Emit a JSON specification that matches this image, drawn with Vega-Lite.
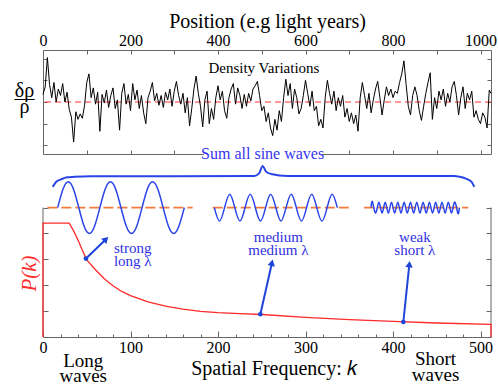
{
"$schema": "https://vega.github.io/schema/vega-lite/v6.json",
"padding": {"left": 13, "top": 10, "right": 0, "bottom": 0},
"config": {"font": "Liberation Serif", "view": {"stroke": null}, "text": {"font": "Liberation Serif"}, "axis": {"grid": false, "labelFont": "Liberation Serif", "titleFont": "Liberation Serif", "tickColor": "#666", "domainColor": "#666", "labelColor": "black", "titleColor": "black", "titleFontWeight": "normal"}},
"spacing": 7,
"bounds": "flush",
"datasets": {
"density": [
{"pos":0,"v":0.35},{"pos":5,"v":0.7},{"pos":10,"v":2.05},{"pos":15,"v":0.8},{"pos":20,"v":0.2},{"pos":25,"v":0.9},{"pos":30,"v":0.0},{"pos":35,"v":0.6},{"pos":40,"v":0.3},{"pos":45,"v":0.85},{"pos":50,"v":0.0},{"pos":55,"v":0.45},{"pos":60,"v":-0.35},{"pos":65,"v":-0.7},{"pos":70,"v":-1.85},{"pos":75,"v":-0.45},{"pos":80,"v":-0.8},{"pos":85,"v":-0.55},{"pos":90,"v":-0.75},{"pos":95,"v":-0.15},{"pos":100,"v":0.9},{"pos":105,"v":1.3},{"pos":110,"v":0.2},{"pos":115,"v":0.65},{"pos":120,"v":-0.1},{"pos":125,"v":0.45},{"pos":130,"v":-1.35},{"pos":135,"v":0.35},{"pos":140,"v":-0.05},{"pos":145,"v":0.55},{"pos":150,"v":-0.25},{"pos":155,"v":0.3},{"pos":160,"v":0.65},{"pos":165,"v":-0.3},{"pos":170,"v":0.1},{"pos":175,"v":-1.3},{"pos":180,"v":0.4},{"pos":185,"v":0.85},{"pos":190,"v":-0.1},{"pos":195,"v":0.35},{"pos":200,"v":-0.4},{"pos":205,"v":0.85},{"pos":210,"v":0.1},{"pos":215,"v":0.55},{"pos":220,"v":-0.3},{"pos":225,"v":0.3},{"pos":230,"v":-0.5},{"pos":235,"v":-1.0},{"pos":240,"v":0.2},{"pos":245,"v":0.5},{"pos":250,"v":0.9},{"pos":255,"v":0.05},{"pos":260,"v":0.4},{"pos":265,"v":-0.15},{"pos":270,"v":0.3},{"pos":275,"v":-0.25},{"pos":280,"v":0.45},{"pos":285,"v":0.1},{"pos":290,"v":0.6},{"pos":295,"v":-0.2},{"pos":300,"v":0.5},{"pos":305,"v":0.95},{"pos":310,"v":0.3},{"pos":315,"v":-0.1},{"pos":320,"v":0.4},{"pos":325,"v":-0.5},{"pos":330,"v":0.2},{"pos":335,"v":-1.1},{"pos":340,"v":-0.3},{"pos":345,"v":0.6},{"pos":350,"v":1.2},{"pos":355,"v":0.4},{"pos":360,"v":-0.2},{"pos":365,"v":-1.15},{"pos":370,"v":0.1},{"pos":375,"v":0.5},{"pos":380,"v":-1.0},{"pos":385,"v":-0.3},{"pos":390,"v":-0.8},{"pos":395,"v":0.2},{"pos":400,"v":0.75},{"pos":405,"v":0.1},{"pos":410,"v":0.5},{"pos":415,"v":-0.4},{"pos":420,"v":-0.75},{"pos":425,"v":0.2},{"pos":430,"v":0.6},{"pos":435,"v":0.85},{"pos":440,"v":-0.1},{"pos":445,"v":0.65},{"pos":450,"v":0.3},{"pos":455,"v":-0.3},{"pos":460,"v":0.35},{"pos":465,"v":-0.2},{"pos":470,"v":0.4},{"pos":475,"v":0.05},{"pos":480,"v":0.6},{"pos":485,"v":0.75},{"pos":490,"v":0.95},{"pos":495,"v":0.3},{"pos":500,"v":-0.4},{"pos":505,"v":-0.2},{"pos":510,"v":-0.9},{"pos":515,"v":-0.5},{"pos":520,"v":-1.2},{"pos":525,"v":-1.55},{"pos":530,"v":-0.8},{"pos":535,"v":-1.3},{"pos":540,"v":-0.4},{"pos":545,"v":-0.9},{"pos":550,"v":0.2},{"pos":555,"v":1.05},{"pos":560,"v":0.3},{"pos":565,"v":0.85},{"pos":570,"v":-0.3},{"pos":575,"v":0.6},{"pos":580,"v":0.2},{"pos":585,"v":-0.55},{"pos":590,"v":-0.3},{"pos":595,"v":0.3},{"pos":600,"v":1.0},{"pos":605,"v":0.4},{"pos":610,"v":-0.2},{"pos":615,"v":0.5},{"pos":620,"v":-0.4},{"pos":625,"v":-0.2},{"pos":630,"v":-1.1},{"pos":635,"v":-0.8},{"pos":640,"v":-1.2},{"pos":645,"v":0.2},{"pos":650,"v":1.0},{"pos":655,"v":0.4},{"pos":660,"v":-0.1},{"pos":665,"v":0.5},{"pos":670,"v":-0.4},{"pos":675,"v":0.2},{"pos":680,"v":-0.2},{"pos":685,"v":0.3},{"pos":690,"v":-0.7},{"pos":695,"v":-0.3},{"pos":700,"v":-0.9},{"pos":705,"v":-0.5},{"pos":710,"v":-1.0},{"pos":715,"v":-0.6},{"pos":720,"v":-1.35},{"pos":725,"v":0.2},{"pos":730,"v":0.9},{"pos":735,"v":0.3},{"pos":740,"v":-0.3},{"pos":745,"v":0.4},{"pos":750,"v":-0.5},{"pos":755,"v":0.1},{"pos":760,"v":0.6},{"pos":765,"v":0.95},{"pos":770,"v":0.2},{"pos":775,"v":-0.6},{"pos":780,"v":0.1},{"pos":785,"v":0.7},{"pos":790,"v":0.3},{"pos":795,"v":0.6},{"pos":800,"v":0.2},{"pos":805,"v":0.5},{"pos":810,"v":0.4},{"pos":815,"v":0.9},{"pos":820,"v":1.3},{"pos":825,"v":1.9},{"pos":830,"v":0.8},{"pos":835,"v":-0.2},{"pos":840,"v":-0.6},{"pos":845,"v":0.3},{"pos":850,"v":0.7},{"pos":855,"v":0.3},{"pos":860,"v":-0.4},{"pos":865,"v":-0.85},{"pos":870,"v":-0.2},{"pos":875,"v":0.4},{"pos":880,"v":0.9},{"pos":885,"v":1.35},{"pos":890,"v":-0.8},{"pos":895,"v":0.2},{"pos":900,"v":-0.3},{"pos":905,"v":0.5},{"pos":910,"v":0.1},{"pos":915,"v":0.6},{"pos":920,"v":-0.2},{"pos":925,"v":0.4},{"pos":930,"v":0.0},{"pos":935,"v":0.7},{"pos":940,"v":0.95},{"pos":945,"v":0.3},{"pos":950,"v":-0.6},{"pos":955,"v":0.2},{"pos":960,"v":0.7},{"pos":965,"v":-0.3},{"pos":970,"v":0.4},{"pos":975,"v":0.1},{"pos":980,"v":0.5},{"pos":985,"v":-0.7},{"pos":990,"v":-0.4},{"pos":995,"v":-0.8},{"pos":1000,"v":-1.0},{"pos":1005,"v":-0.5},{"pos":1010,"v":-0.7},{"pos":1015,"v":-1.2},{"pos":1020,"v":0.55},{"pos":1024,"v":0.4}
],
"pk": [
{"k":0,"P":0},{"k":0,"P":4.4},{"k":30,"P":4.4},{"k":35,"P":4.1},{"k":40,"P":3.75},{"k":45,"P":3.35},{"k":50,"P":2.98},{"k":60,"P":2.6},{"k":70,"P":2.25},{"k":80,"P":1.98},{"k":90,"P":1.76},{"k":100,"P":1.6},{"k":120,"P":1.36},{"k":140,"P":1.19},{"k":160,"P":1.08},{"k":180,"P":0.99},{"k":200,"P":0.94},{"k":225,"P":0.9},{"k":250,"P":0.87},{"k":300,"P":0.76},{"k":350,"P":0.67},{"k":400,"P":0.6},{"k":450,"P":0.54},{"k":512,"P":0.49},{"k":512,"P":0}
],
"dash": [
{"seg":1,"k":5,"P":5},{"seg":1,"k":171,"P":5},{"seg":2,"k":194,"P":5},{"seg":2,"k":352,"P":5},{"seg":3,"k":367,"P":5},{"seg":3,"k":486,"P":5}
],
"waves": [
{"wave":"L","k":16.8,"P":5},{"wave":"L","k":22.8,"P":5.71},{"wave":"L","k":28.9,"P":6},{"wave":"L","k":34.9,"P":5.71},{"wave":"L","k":40.9,"P":5},{"wave":"L","k":46.9,"P":4.29},{"wave":"L","k":53.0,"P":4},{"wave":"L","k":59.0,"P":4.29},{"wave":"L","k":65.0,"P":5},{"wave":"L","k":71.0,"P":5.71},{"wave":"L","k":77.1,"P":6},{"wave":"L","k":83.1,"P":5.71},{"wave":"L","k":89.1,"P":5},{"wave":"L","k":95.1,"P":4.29},{"wave":"L","k":101.2,"P":4},{"wave":"L","k":107.2,"P":4.29},{"wave":"L","k":113.2,"P":5},{"wave":"L","k":119.2,"P":5.71},{"wave":"L","k":125.2,"P":6},{"wave":"L","k":131.3,"P":5.71},{"wave":"L","k":137.3,"P":5},{"wave":"L","k":143.3,"P":4.29},{"wave":"L","k":149.4,"P":4},{"wave":"L","k":155.4,"P":4.29},{"wave":"L","k":161.5,"P":5},
{"wave":"M","k":195.8,"P":5},{"wave":"M","k":201.7,"P":4.48},{"wave":"M","k":207.5,"P":5},{"wave":"M","k":213.4,"P":5.52},{"wave":"M","k":219.2,"P":5},{"wave":"M","k":225.1,"P":4.48},{"wave":"M","k":230.9,"P":5},{"wave":"M","k":236.8,"P":5.52},{"wave":"M","k":242.7,"P":5},{"wave":"M","k":248.5,"P":4.48},{"wave":"M","k":254.4,"P":5},{"wave":"M","k":260.2,"P":5.52},{"wave":"M","k":266.1,"P":5},{"wave":"M","k":271.9,"P":4.48},{"wave":"M","k":277.8,"P":5},{"wave":"M","k":283.7,"P":5.52},{"wave":"M","k":289.5,"P":5},{"wave":"M","k":295.4,"P":4.48},{"wave":"M","k":301.2,"P":5},{"wave":"M","k":307.1,"P":5.52},{"wave":"M","k":312.9,"P":5},{"wave":"M","k":318.8,"P":4.48},{"wave":"M","k":324.7,"P":5},{"wave":"M","k":330.5,"P":5.52},{"wave":"M","k":336.4,"P":5},
{"wave":"S","k":374.9,"P":5},{"wave":"S","k":376.7,"P":5.21},{"wave":"S","k":380.3,"P":4.79},{"wave":"S","k":383.9,"P":5.21},{"wave":"S","k":387.5,"P":4.79},{"wave":"S","k":391.1,"P":5.21},{"wave":"S","k":394.7,"P":4.79},{"wave":"S","k":398.3,"P":5.21},{"wave":"S","k":401.9,"P":4.79},{"wave":"S","k":405.5,"P":5.21},{"wave":"S","k":409.1,"P":4.79},{"wave":"S","k":412.7,"P":5.21},{"wave":"S","k":416.3,"P":4.79},{"wave":"S","k":420.0,"P":5.21},{"wave":"S","k":423.6,"P":4.79},{"wave":"S","k":427.2,"P":5.21},{"wave":"S","k":430.8,"P":4.79},{"wave":"S","k":434.4,"P":5.21},{"wave":"S","k":438.0,"P":4.79},{"wave":"S","k":441.6,"P":5.21},{"wave":"S","k":445.2,"P":4.79},{"wave":"S","k":448.8,"P":5.21},{"wave":"S","k":452.4,"P":4.79},{"wave":"S","k":456.0,"P":5.21},{"wave":"S","k":459.6,"P":4.79},{"wave":"S","k":463.2,"P":5.21},{"wave":"S","k":466.8,"P":4.79},{"wave":"S","k":470.4,"P":5.21},{"wave":"S","k":474.0,"P":4.79},{"wave":"S","k":475.8,"P":5}
],
"brace": [
{"k":11.1,"P":5.8},{"k":14.9,"P":5.99},{"k":20.6,"P":6.09},{"k":27.4,"P":6.17},{"k":35.8,"P":6.19},{"k":54.9,"P":6.21},{"k":241.5,"P":6.22},{"k":246.9,"P":6.32},{"k":251.1,"P":6.61},{"k":254.9,"P":6.39},{"k":260.6,"P":6.3},{"k":279.7,"P":6.22},{"k":470,"P":6.22},{"k":480,"P":6.16},{"k":485.4,"P":6.09},{"k":490.3,"P":5.97},{"k":492.9,"P":5.8}
],
"arrows": [
{"k":49.1,"P":3.03,"k2":72,"P2":3.78},{"k":248.4,"P":0.88,"k2":261.7,"P2":2.87},{"k":411.8,"P":0.58,"k2":418.7,"P2":2.81}
]
},
"vconcat": [
{
"width": 448, "height": 104,
"view": {"stroke": "#666"},
"resolve": {"axis": {"x": "independent", "y": "independent"}},
"layer": [
{"data": {"values": [{}]}, "mark": {"type": "rule", "color": "#ff3030", "strokeDash": [6, 4], "strokeWidth": 1},
 "encoding": {"y": {"datum": 0, "type": "quantitative", "axis": null}}},
{"data": {"name": "density"}, "mark": {"type": "line", "color": "black", "strokeWidth": 1},
 "encoding": {
  "x": {"field": "pos", "type": "quantitative", "scale": {"domain": [0, 1024], "nice": false, "zero": false},
   "axis": {"orient": "top", "values": [0,100,200,300,400,500,600,700,800,900,1000], "format": "d", "labelExpr": "datum.value % 200 == 0 ? datum.label : ''", "labelFlush": false, "labelOverlap": false, "tickSize": -4, "domain": false, "labelFont": "Liberation Serif", "labelFontSize": 16, "labelPadding": 6, "title": "Position (e.g light years)", "titleFont": "Liberation Serif", "titleFontSize": 20, "titleY": -29, "titleBaseline": "middle"}},
  "y": {"field": "v", "type": "quantitative", "scale": {"domain": [-2.4, 2.4], "nice": false, "zero": false},
   "axis": {"orient": "left", "values": [-2,-1,0,1,2], "labels": false, "tickSize": -4, "domain": false, "title": ["δρ", "—", "ρ"], "titleFont": "Liberation Serif", "titleAngle": 0, "titleAlign": "center", "titleBaseline": "middle", "titleFontSize": 20, "titleLineHeight": 8, "titleX": -19, "titleY": 40}}
 }},
{"data": {"values": [{}]}, "mark": {"type": "rect", "fill": "white"},
 "encoding": {
  "x": {"datum": 368, "type": "quantitative", "axis": {"orient": "bottom", "values": [100,200,300,700,800,900,1000], "labels": false, "tickSize": -4, "domain": false, "title": null}},
  "x2": {"datum": 638},
  "y": {"datum": -2.6, "type": "quantitative", "axis": {"orient": "right", "values": [-2,-1,0,1,2], "labels": false, "tickSize": -4, "domain": false, "title": null}},
  "y2": {"datum": -2.2}
 }},
{"data": {"values": [{}]}, "mark": {"type": "text", "font": "Liberation Serif", "color": "#3535ee", "fontSize": 16, "baseline": "middle"},
 "encoding": {"x": {"datum": 502, "type": "quantitative", "axis": null}, "y": {"datum": -2.4, "type": "quantitative", "axis": null}, "text": {"value": "Sum all sine waves"}}},
{"data": {"values": [{}]}, "mark": {"type": "text", "font": "Liberation Serif", "color": "black", "fontSize": 15, "baseline": "middle"},
 "encoding": {"x": {"datum": 505, "type": "quantitative", "axis": null}, "y": {"datum": 1.55, "type": "quantitative", "axis": null}, "text": {"value": "Density Variations"}}}
]
},
{
"width": 448, "height": 176,
"resolve": {"axis": {"x": "independent", "y": "independent"}},
"layer": [
{"data": {"values": [{}]}, "mark": {"type": "rule", "color": "#666"},
 "encoding": {"x": {"datum": 0, "type": "quantitative", "axis": null}, "y": {"datum": 0, "type": "quantitative", "axis": null}, "y2": {"datum": 5}}},
{"data": {"values": [{}]}, "mark": {"type": "rule", "color": "#666"},
 "encoding": {"x": {"datum": 512, "type": "quantitative", "axis": null}, "y": {"datum": 0, "type": "quantitative", "axis": {"orient": "right", "values": [0,1,2,3,4,5], "labels": false, "tickSize": -5, "domain": false, "title": null}}, "y2": {"datum": 5}}},
{"data": {"name": "dash"}, "mark": {"type": "line", "color": "#f47a3a", "strokeDash": [10, 4], "strokeWidth": 1.6},
 "encoding": {"x": {"field": "k", "type": "quantitative", "axis": null}, "y": {"field": "P", "type": "quantitative", "axis": null}, "detail": {"field": "seg"}}},
{"data": {"name": "waves"}, "mark": {"type": "line", "color": "#2a44e8", "strokeWidth": 1.5, "interpolate": "natural"},
 "encoding": {"x": {"field": "k", "type": "quantitative", "axis": null}, "y": {"field": "P", "type": "quantitative", "axis": null}, "detail": {"field": "wave"}}},
{"data": {"name": "brace"}, "mark": {"type": "line", "color": "#2a44e8", "strokeWidth": 2, "interpolate": "monotone"},
 "encoding": {"x": {"field": "k", "type": "quantitative", "axis": null}, "y": {"field": "P", "type": "quantitative", "axis": null}}},
{"data": {"name": "pk"}, "mark": {"type": "line", "color": "#ff2a2a", "strokeWidth": 1.3},
 "encoding": {
  "x": {"field": "k", "type": "quantitative", "scale": {"domain": [0, 512], "nice": false, "zero": false},
   "axis": {"orient": "bottom", "values": [0,20,40,60,80,100,120,140,160,180,200,220,240,260,280,300,320,340,360,380,400,420,440,460,480,500], "format": "d", "labelExpr": "datum.value % 100 == 0 ? datum.label : ''", "labelFlush": false, "labelOverlap": false, "tickSize": {"condition": {"test": "datum.value % 100 == 0", "value": -6}, "value": -3}, "domain": true, "labelFont": "Liberation Serif", "labelFontSize": 16, "labelPadding": 8, "title": "Spatial Frequency: 𝑘", "titleFont": "Liberation Serif", "titleFontSize": 20, "titleX": 231, "titleY": 31, "titleBaseline": "middle"}},
  "y": {"field": "P", "type": "quantitative", "scale": {"domain": [0, 6.8], "nice": false, "zero": false},
   "axis": {"orient": "left", "values": [0,1,2,3,4,5], "labels": false, "tickSize": -5, "domain": false, "title": "P(k)", "titleFont": "Liberation Serif", "titleColor": "#ff2a2a", "titleFontStyle": "italic", "titleFontSize": 21, "titleAngle": -90, "titleAlign": "center", "titleBaseline": "middle", "titleX": -14, "titleY": 112}},
  "order": {"value": null}
 }},
{"data": {"name": "arrows"}, "mark": {"type": "rule", "color": "#1f45d8", "strokeWidth": 2},
 "encoding": {"x": {"field": "k", "type": "quantitative", "axis": null}, "y": {"field": "P", "type": "quantitative", "axis": null}, "x2": {"field": "k2"}, "y2": {"field": "P2"}}},
{"data": {"name": "arrows"}, "mark": {"type": "point", "shape": "circle", "filled": true, "color": "#1f45d8", "size": 22, "opacity": 1},
 "encoding": {"x": {"field": "k", "type": "quantitative", "axis": null}, "y": {"field": "P", "type": "quantitative", "axis": null}}},
{"data": {"values": [{}]}, "mark": {"type": "point", "shape": "triangle-up", "filled": true, "color": "#1f45d8", "size": 55, "opacity": 1, "angle": 46},
 "encoding": {"x": {"datum": 72, "type": "quantitative", "axis": null}, "y": {"datum": 3.78, "type": "quantitative", "axis": null}}},
{"data": {"values": [{}]}, "mark": {"type": "point", "shape": "triangle-up", "filled": true, "color": "#1f45d8", "size": 55, "opacity": 1, "angle": 13},
 "encoding": {"x": {"datum": 261.7, "type": "quantitative", "axis": null}, "y": {"datum": 2.87, "type": "quantitative", "axis": null}}},
{"data": {"values": [{}]}, "mark": {"type": "point", "shape": "triangle-up", "filled": true, "color": "#1f45d8", "size": 55, "opacity": 1, "angle": 6},
 "encoding": {"x": {"datum": 418.7, "type": "quantitative", "axis": null}, "y": {"datum": 2.81, "type": "quantitative", "axis": null}}},
{"data": {"values": [{}]}, "mark": {"type": "text", "font": "Liberation Serif", "color": "#3030e0", "fontSize": 15, "align": "left", "baseline": "alphabetic", "lineHeight": 13.5},
 "encoding": {"x": {"datum": 81, "type": "quantitative", "axis": null}, "y": {"datum": 3.25, "type": "quantitative", "axis": null}, "text": {"value": ["strong", "long λ"]}}},
{"data": {"values": [{}]}, "mark": {"type": "text", "font": "Liberation Serif", "color": "#3030e0", "fontSize": 15, "align": "center", "baseline": "alphabetic", "lineHeight": 13},
 "encoding": {"x": {"datum": 269, "type": "quantitative", "axis": null}, "y": {"datum": 3.67, "type": "quantitative", "axis": null}, "text": {"value": ["medium", "medium λ"]}}},
{"data": {"values": [{}]}, "mark": {"type": "text", "font": "Liberation Serif", "color": "#3030e0", "fontSize": 15, "align": "center", "baseline": "alphabetic", "lineHeight": 13},
 "encoding": {"x": {"datum": 425, "type": "quantitative", "axis": null}, "y": {"datum": 3.67, "type": "quantitative", "axis": null}, "text": {"value": ["weak", "short λ"]}}},
{"data": {"values": [{}]}, "mark": {"type": "text", "font": "Liberation Serif", "color": "black", "fontSize": 19, "align": "center", "baseline": "alphabetic", "lineHeight": 15},
 "encoding": {"x": {"datum": 46, "type": "quantitative", "axis": null}, "y": {"datum": -1.16, "type": "quantitative", "axis": null}, "text": {"value": ["Long", "waves"]}}},
{"data": {"values": [{}]}, "mark": {"type": "text", "font": "Liberation Serif", "color": "black", "fontSize": 19, "align": "center", "baseline": "alphabetic", "lineHeight": 16},
 "encoding": {"x": {"datum": 448.6, "type": "quantitative", "axis": null}, "y": {"datum": -1.08, "type": "quantitative", "axis": null}, "text": {"value": ["Short", "waves"]}}}
]
}
]
}
